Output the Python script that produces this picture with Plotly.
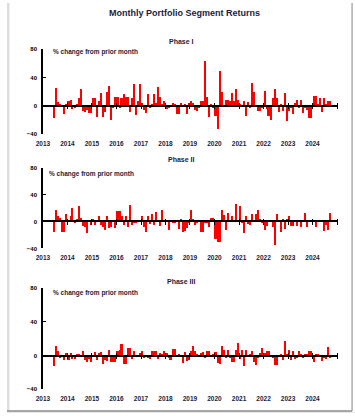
import pandas as pd
import plotly.graph_objects as go

W, H = 355, 416

phase1 = [-18, 25, 5, 1, 0, -12, 2, 7, 8, -5, -3, 1, 10, 23,
          -8, -9, -6, -10, -10, 11, 11, -16, 6, 18, -16, -9, 19, 28, -20, -3,
          12, 12, -3, 10, 16, 12, 12, -9, 11, 31, -13, 7, 30, 3, -6, -11, 16, -3, 2, 16,
          3, 26, 12, 1, 6, -5, -3, -2, 4, 2,
          -12, -12, 3, -2, 1, -12, 3, 7, 3, -6, -8, -4, 7, 7, 63, 12, -16, 2, -4, -15,
          -33, 49, 19,
          -2, 8, 8, 7, 18, 7, 24, 8, 1, 0, 7, -15, 5, -3, 32, 19, 0, -8, -8, -4,
          20, -5, -15, -21, 10, 23, 10, -9, 2, -8, 18, -22, -8, -4, -12, 3, 8, -3, 8, -10,
          -3, -6, -17, -17, 14, 14, 2, 10, -9, 11, 1, 7, 7]

phase2 = [-15, 18, 8, 6, -15, -15, 11, 2, 9, 20, -2, 4, 24, 6, -6, -7, -17, 0, -5, 5,
          -5, 0, 8, -5, -8, -12, 8, -9, -7, 3, -9, 16, 16, 8, -5, 8, -8, 25, -4, -2,
          -2, 0, 3, 8, -8, -15, 8, -3, 11, -5, 14, 3, -6, 17, 3, 0, -12, 2, -2, -1,
          0, -10, 5, -15, -13, -9, -2, 18, 5, -5, -2, 0, -15, -15, -2, -1, -8, 6, 6, -25,
          -30, -30, 18, 10, -12, 13, 0, 8, 0, 27, 0, 23, -2, -17, 9, -3, -4, 12, 0, 11,
          17, 5, -2, -12, -6, 0, 3, -8, -35, 11, 0, -15, 5, -10, 5, 9, -6, -6, 2, -6,
          0, -7, 0, 13, -7, 0, 3, 3, -8, 2, 1, 3, -14, -5, -12, 13, 2]

phase3 = [-12, 12, 5, -3, 0, -5, 3, -5, 3, -4, -4, 2, 2, 0, 6, -5, -7, -4, -7, 0,
          4, -5, 3, 4, -10, -5, -6, 7, -7, -7, -7, 5, 7, 14, -10, -10, 9, 9, -4, 5,
          -2, -1, 3, 5, -3, -1, -3, -4, 5, 5, 5, -4, 3, 2, 6, 3, -3, -5, 8, 8,
          -2, 2, -1, -9, 4, -6, -5, 5, 11, 5, 2, -2, 3, 4, -3, 6, 6, 0, 1, 4,
          -9, -10, 11, 7, -3, 7, -3, -7, -7, 7, 15, -4, 7, -12, 7, -2, 1, 6, -7, -11,
          -3, 3, 9, 3, 5, 6, -2, -3, -11, -11, -2, 2, -5, 17, 1, 7, -5, 5, -4, -3,
          5, 2, -3, 1, 2, 6, 6, -7, 1, 1, 0, -6, -3, -4, 10, -3]

year_labels = ["2013", "2014", "2015", "2016", "2017", "2018",
               "2019", "2020", "2021", "2022", "2023", "2024"]
panel_titles = ["Phase I", "Phase II", "Phase III"]
chart_title = "Monthly Portfolio Segment Returns"
y_label = "% change from prior month"
start_month = "2013-06-01"
x_range = ["2013-01-01", "2025-01-20"]
y_range = [-40, 80]

# pixel layout (top of y=80, bottom of y=-40) per panel
panel_px = [(47, 133), (167, 249), (289, 392)]
title_px = [39, 159, 283]
label_px = [(45, 50), (41, 173), (45, 294)]

def py(px):
    return 1 - px / H

def pxx(px):
    return px / W

x_dom = [pxx(36.7), pxx(338)]
font_bold = "Liberation Sans, Arial, sans-serif"
navy = "#1c1c3c"
year_vals = [y + "-01-01" for y in year_labels]

fig = go.Figure()
series = [phase1, phase2, phase3]
layout = dict(width=W, height=H, margin=dict(l=0, r=0, t=0, b=0),
              paper_bgcolor="white", plot_bgcolor="white", showlegend=False,
              bargap=0, barmode="overlay")

annotations = []
shapes = []
for i, vals in enumerate(series):
    n = i + 1
    xs = pd.date_range(start_month, periods=len(vals), freq="MS") + pd.Timedelta(days=15)
    suffix = "" if n == 1 else str(n)
    fig.add_trace(go.Bar(x=xs, y=vals, marker=dict(color="#FF0000", line=dict(width=0)),
                         width=30.4 * 86400000, xaxis="x" + suffix, yaxis="y" + suffix,
                         hoverinfo="skip"))
    top, bot = panel_px[i]
    dom = [py(bot), py(top)]
    zero_pos = dom[0] + (dom[1] - dom[0]) * (0 - y_range[0]) / (y_range[1] - y_range[0])
    layout["xaxis" + suffix] = dict(domain=x_dom, anchor="y" + suffix, type="date",
                                    range=x_range, showline=False, ticks="",
                                    tickmode="array", tickvals=year_vals, ticktext=year_labels,
                                    tickfont=dict(family=font_bold, size=6.5, color=navy, weight="bold"),
                                    ticklabelstandoff=4,
                                    showgrid=False, zeroline=False, fixedrange=True)
    layout["yaxis" + suffix] = dict(domain=dom, anchor="x" + suffix, range=y_range,
                                    tick0=0, dtick=40, showline=True, linecolor="black",
                                    linewidth=1.5, ticks="inside", ticklen=3, tickcolor="black",
                                    tickwidth=1, showgrid=False, zeroline=False,
                                    ticklabelstandoff=3,
                                    tickfont=dict(family=font_bold, size=6, color="black", weight="bold"),
                                    fixedrange=True)
    # zero axis with crossing ticks: two overlay axes
    for k, tk in enumerate(["outside", "inside"]):
        ax_id = 4 + i * 2 + k
        fig.add_trace(go.Scatter(x=[], y=[], xaxis="x%d" % ax_id, yaxis="y" + suffix,
                                 hoverinfo="skip", showlegend=False))
        layout["xaxis%d" % ax_id] = dict(domain=x_dom, overlaying="x" + suffix, anchor="free",
                                         position=zero_pos, type="date", range=x_range,
                                         showline=(k == 0), linecolor="black", linewidth=1.5,
                                         ticks=tk, ticklen=2.5, tickcolor="black", tickwidth=1.2,
                                         dtick="M12", tick0="2013-01-01", showticklabels=False,
                                         showgrid=False, zeroline=False, fixedrange=True)
    annotations.append(dict(text="<b>%s</b>" % panel_titles[i], x=pxx(178), y=py(title_px[i]),
                            xref="paper", yref="paper", showarrow=False, xanchor="center",
                            yanchor="middle", font=dict(family=font_bold, size=7, color=navy)))
    lx, ly = label_px[i]
    annotations.append(dict(text="<b>%s</b>" % y_label, x=pxx(lx), y=py(ly),
                            xref="paper", yref="paper", showarrow=False, xanchor="left",
                            yanchor="middle", font=dict(family=font_bold, size=6.5, color=navy)))

annotations.append(dict(text="<b>%s</b>" % chart_title, x=pxx(181), y=py(10),
                        xref="paper", yref="paper", showarrow=False, xanchor="center",
                        yanchor="middle", font=dict(family=font_bold, size=9, color=navy)))

shapes.append(dict(type="rect", xref="paper", yref="paper", x0=0, x1=pxx(2.5), y0=py(414), y1=1,
                   fillcolor="#dddddd", line=dict(width=0), layer="below"))
shapes.append(dict(type="line", xref="paper", yref="paper", x0=pxx(352), x1=pxx(352),
                   y0=py(414), y1=1, line=dict(color="#999999", width=1.2)))
shapes.append(dict(type="line", xref="paper", yref="paper", x0=0, x1=pxx(352),
                   y0=py(414), y1=py(414), line=dict(color="#888888", width=1.5)))
shapes.append(dict(type="rect", xref="paper", yref="paper", x0=0, x1=1, y0=0, y1=py(415),
                   fillcolor="#e6e6e6", line=dict(width=0), layer="below"))

layout["annotations"] = annotations
layout["shapes"] = shapes
fig.update_layout(**layout)
fig.write_html("out.html", config={"displayModeBar": False},
               post_script="document.body.style.margin='0';document.body.style.overflow='hidden';")
